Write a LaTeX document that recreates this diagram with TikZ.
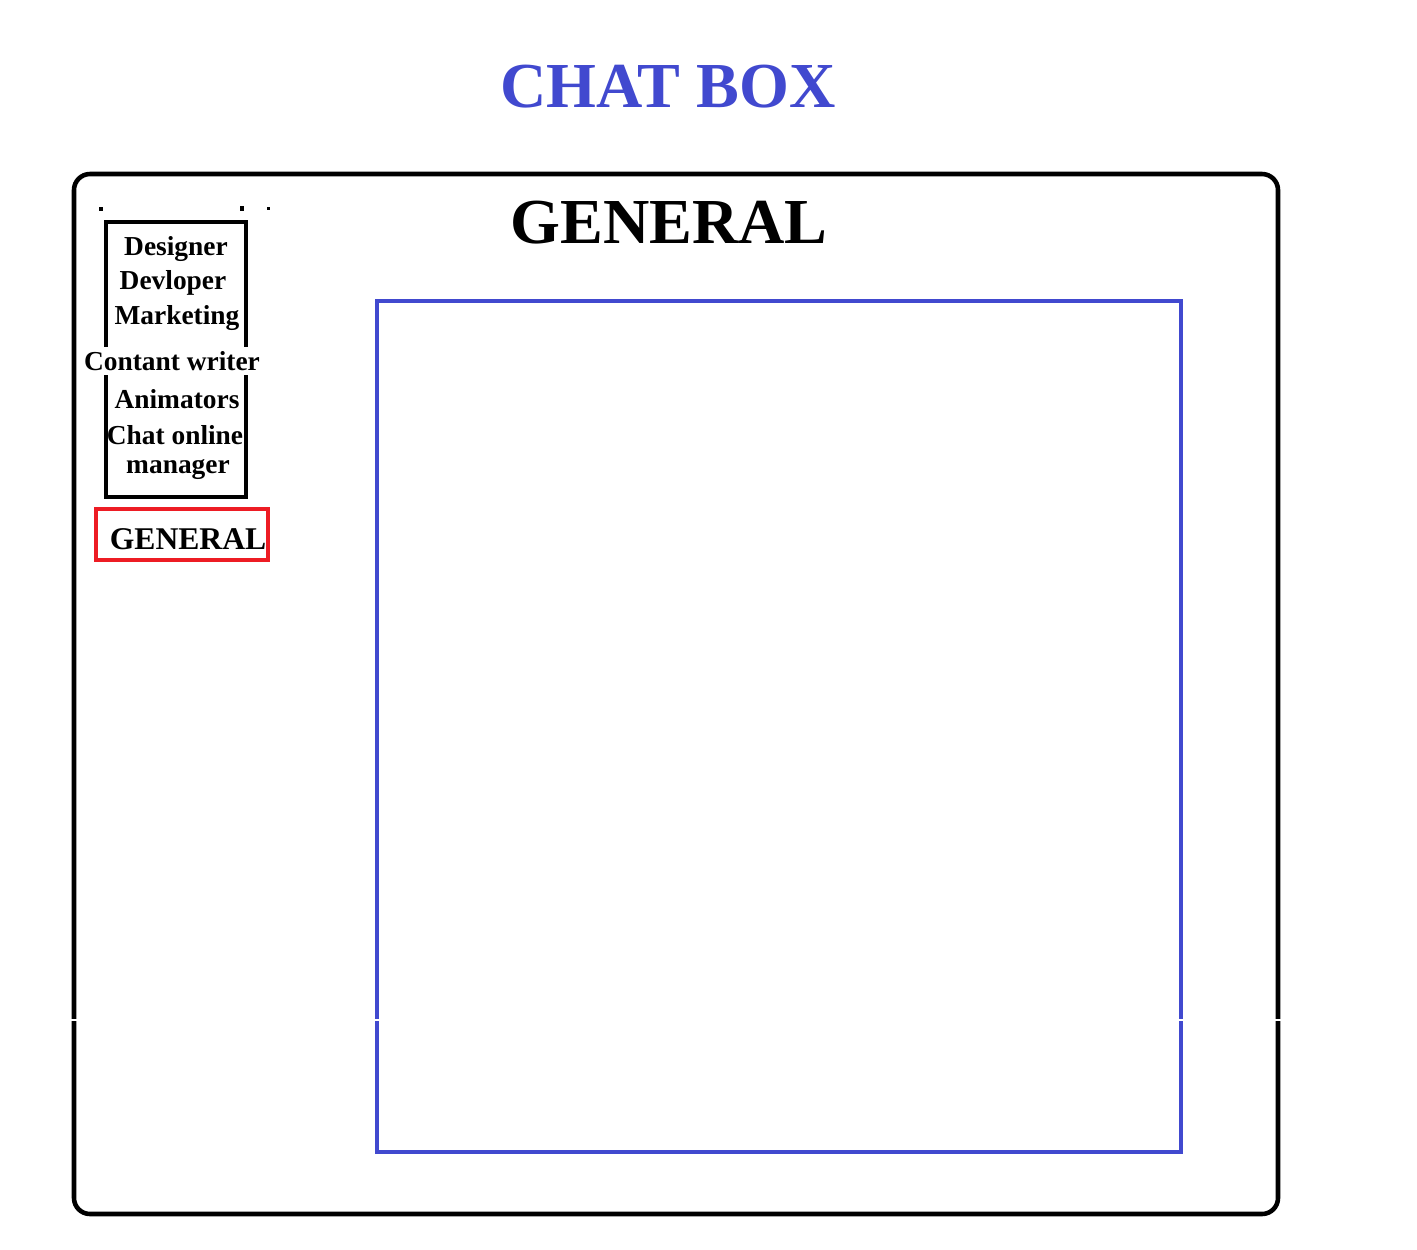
\documentclass[tikz,border=0pt]{standalone}
\usepackage{fontspec}
\setmainfont{Liberation Serif}
\definecolor{chatblue}{RGB}{65,73,207}
\definecolor{chatred}{RGB}{237,28,36}
\tikzset{
  listitem/.style={inner sep=1pt, font=\fontsize{15.6}{18}\selectfont\bfseries},
  listgap/.style={listitem, fill=white, inner sep=2.5pt},
  heading/.style={font=\fontsize{36.5}{40}\selectfont\bfseries}
}

\begin{document}
\begin{tikzpicture}[x=0.02cm, y=-0.02cm]
			%%%%% START %%%%%
			\useasboundingbox (0, 0) rectangle (1417, 1249);
			
			\node[heading, text=chatblue] (title) at (668, 87) {CHAT BOX};
			
			\draw[line width=2.6pt, rounded corners=0.32cm] (74, 174) rectangle (1278, 1214);
			\node[heading] (channel) at (669, 223) {GENERAL};
			
			\draw[line width=2.5pt, color=chatblue] (377, 301) rectangle (1181, 1152);
			
			\draw[fill=black] (99, 207) rectangle (102, 210);
			\draw[fill=black] (240, 206) rectangle (243, 210);
			\draw[fill=black] (267, 207) rectangle (269, 209);
			
			\draw[line width=2.6pt] (106, 222) rectangle (246, 497);
			\node[listitem] (designer) at (176, 249) {Designer};
			\node[listitem] (devloper) at (173, 283) {Devloper};
			\node[listgap] (marketing) at (177, 318) {Marketing};
			\node[listgap] (writer) at (172, 361) {Contant writer};
			\node[listitem] (animators) at (177, 399) {Animators};
			\node[listitem] (chatonline) at (175, 435) {Chat online};
			\node[listitem] (manager) at (178, 469) {manager};
			
			\draw[line width=2.2pt, color=chatred] (96, 509) rectangle (268, 560);
			\node[listitem, font=\fontsize{18}{20}\selectfont\bfseries] (general) at (188, 539) {GENERAL};
			
			\draw[white, line width=0.6pt] (68, 1020) -- (1285, 1020);
			
			%%%%% END %%%%%
\end{tikzpicture}
\end{document}
